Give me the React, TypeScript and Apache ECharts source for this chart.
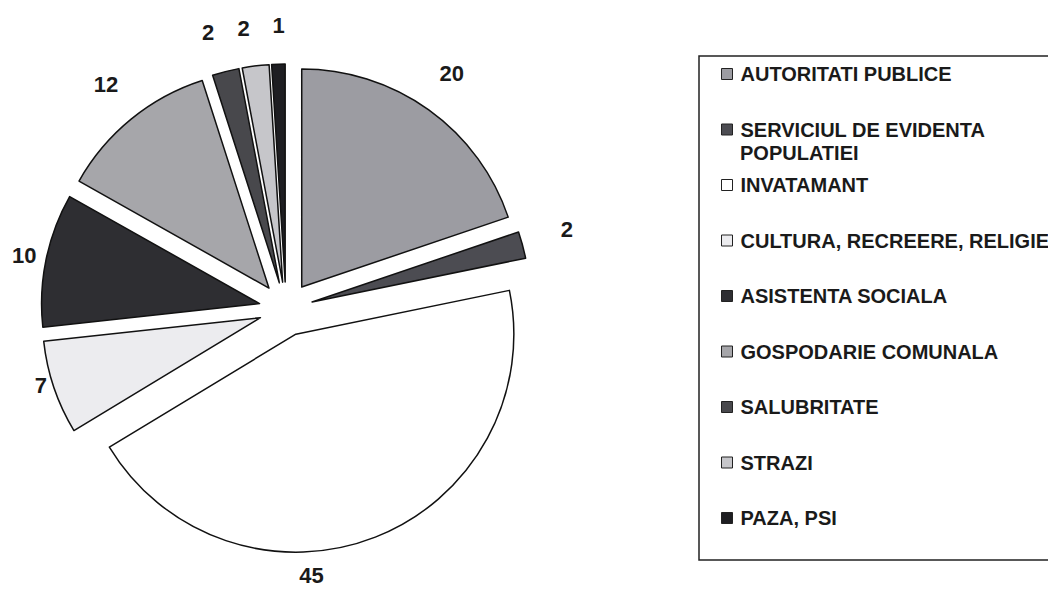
import React, { useEffect, useRef } from "react";
import * as echarts from "echarts";

const categories = [
  "AUTORITATI PUBLICE",
  "SERVICIUL DE EVIDENTA POPULATIEI",
  "INVATAMANT",
  "CULTURA, RECREERE, RELIGIE",
  "ASISTENTA SOCIALA",
  "GOSPODARIE COMUNALA",
  "SALUBRITATE",
  "STRAZI",
  "PAZA, PSI",
];
const values = [20, 2, 45, 7, 10, 12, 2, 2, 1];
const colors = [
  "#9c9ca2",
  "#4c4c52",
  "#ffffff",
  "#ececef",
  "#2e2e32",
  "#a6a6aa",
  "#48484c",
  "#c6c6ca",
  "#1e1e22",
];
// small nudges of the value labels away from ECharts' default outside spot
const labelNudges: [number, number][] = [
  [-7, -19],
  [12, -10],
  [-89, 18],
  [19, -9],
  [17, 0],
  [6, -18],
  [-1, -18],
  [2, -16],
  [12, -17],
];
// legend shows the long name on two lines, second line drawn separately
const legendFirstLines: Record<string, string> = {
  "SERVICIUL DE EVIDENTA POPULATIEI": "SERVICIUL DE EVIDENTA",
};
const legendSecondLine = "POPULATIEI";

const FONT = "'Liberation Sans', Arial, sans-serif";

export default function App() {
  const ref = useRef<HTMLDivElement>(null);
  useEffect(() => {
    document.body.style.margin = "0";
    const chart = echarts.init(ref.current!, null, { renderer: "svg" });
    const data = categories.map((name, i) => ({
      name,
      value: values[i],
      selected: true,
      itemStyle: { color: colors[i] },
    }));
    chart.setOption({
      animation: false,
      backgroundColor: "#ffffff",
      legend: {
        orient: "vertical",
        left: 721,
        top: 62,
        padding: 0,
        itemWidth: 11,
        itemHeight: 11,
        itemGap: 31.5,
        selectedMode: false,
        icon: "rect",
        itemStyle: { borderColor: "#222", borderWidth: 1 },
        formatter: (name: string) => legendFirstLines[name] ?? name,
        textStyle: {
          fontFamily: FONT,
          fontSize: 20,
          fontWeight: "bold",
          color: "#1a1a1a",
          lineHeight: 24,
          padding: [0, 0, 0, 3],
        },
        data: categories,
      },
      graphic: [
        {
          type: "rect",
          shape: { x: 699, y: 56, width: 400, height: 504 },
          style: { fill: "none", stroke: "#222", lineWidth: 1.5 },
          silent: true,
        },
        {
          type: "text",
          x: 740,
          y: 153,
          style: {
            text: legendSecondLine,
            font: `bold 20px ${FONT}`,
            fill: "#1a1a1a",
            verticalAlign: "middle",
          },
          silent: true,
        },
      ],
      series: [
        {
          type: "pie",
          center: [286, 309],
          radius: 218,
          startAngle: 90,
          clockwise: true,
          selectedMode: "multiple",
          selectedOffset: 27,
          avoidLabelOverlap: false,
          emphasis: { disabled: true },
          itemStyle: { borderColor: "#111", borderWidth: 1.5 },
          label: {
            show: true,
            position: "outside",
            formatter: "{c}",
            fontFamily: FONT,
            fontSize: 22,
            fontWeight: "bold",
            color: "#1a1a1a",
          },
          labelLine: { show: false, length: 22, length2: 0 },
          labelLayout: (p: any) => {
            const n = labelNudges[p.dataIndex] || [0, 0];
            return { dx: n[0], dy: n[1] };
          },
          data,
        },
      ],
    });
    return () => chart.dispose();
  }, []);
  return <div ref={ref} style={{ width: 1048, height: 590 }} />;
}
